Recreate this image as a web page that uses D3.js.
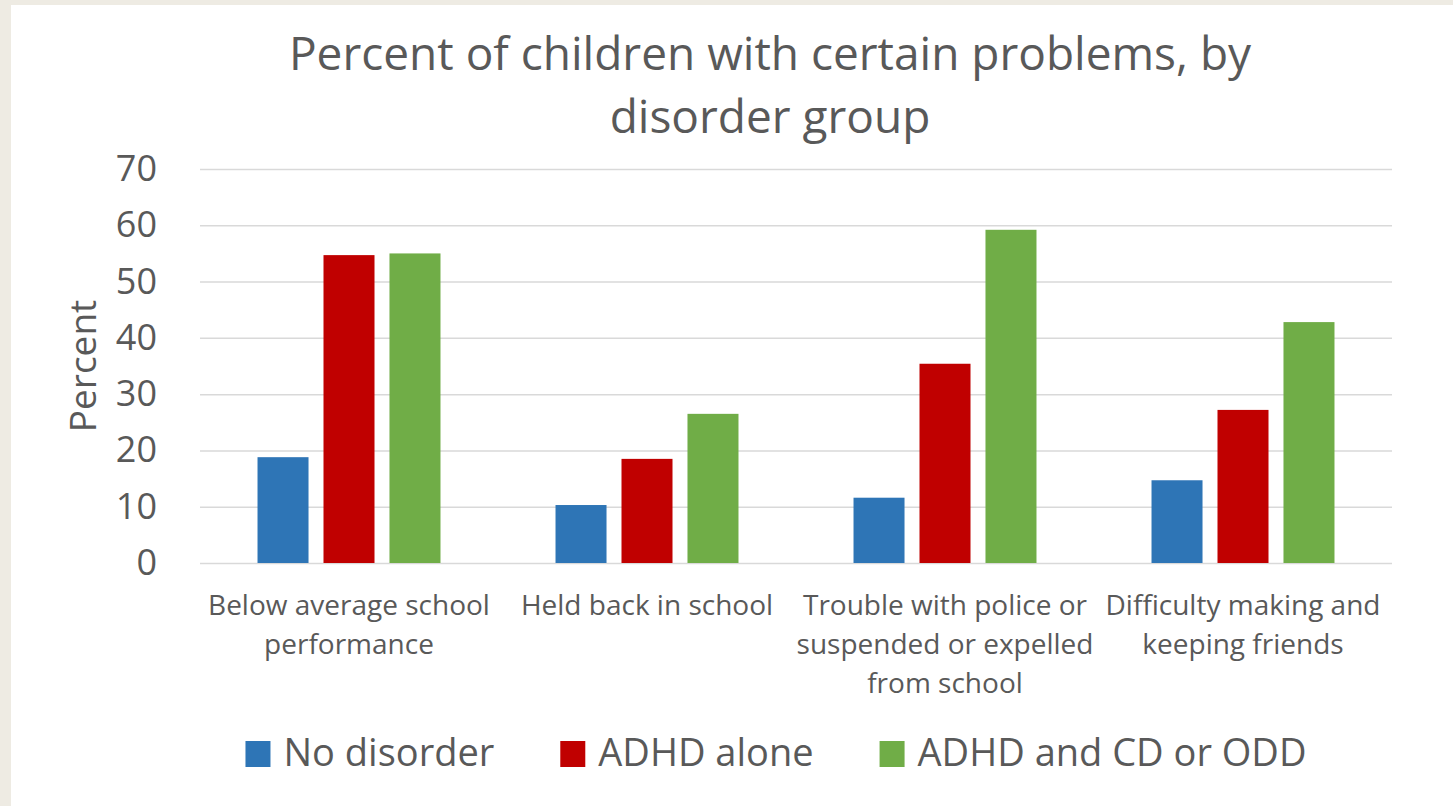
<!DOCTYPE html>
<html>
<head>
<meta charset="utf-8">
<script src="https://cdn.jsdelivr.net/npm/d3@7"></script>
<style>
  html, body { margin: 0; padding: 0; background: #eeebe3; }
  svg { display: block; }
  text { font-family: "Open Sans", "Noto Sans", sans-serif; fill: #595959; }
</style>
</head>
<body>
<div id="chart"></div>
<script>
// data
const categories = [
  ['Below average school', 'performance'],
  ['Held back in school'],
  ['Trouble with police or', 'suspended or expelled', 'from school'],
  ['Difficulty making and', 'keeping friends']
];
const seriesNames = ['No disorder', 'ADHD alone', 'ADHD and CD or ODD'];
const noDisorder = [18.8, 10.3, 11.6, 14.7];
const adhdAlone = [54.7, 18.5, 35.4, 27.2];
const adhdCdOdd = [55.0, 26.5, 59.2, 42.8];
const yTicks = [0, 10, 20, 30, 40, 50, 60, 70];
const titleLines = ['Percent of children with certain problems, by', 'disorder group'];

const colors = ['#2e75b6', '#c00000', '#70ad47'];
const seriesValues = [noDisorder, adhdAlone, adhdCdOdd];

const W = 1453, H = 806;
const margin = {top: 169, right: 61, bottom: 243, left: 200},
      width = W - margin.left - margin.right,
      height = H - margin.top - margin.bottom;

const root = d3.select('#chart').append('svg')
    .attr('width', W)
    .attr('height', H);

// white panel on beige page
root.append('rect')
    .attr('x', 11).attr('y', 5)
    .attr('width', W - 11).attr('height', H - 5)
    .attr('fill', '#ffffff');

// title
root.append('text')
    .attr('text-anchor', 'middle')
    .style('font-size', '46px')
    .selectAll('tspan')
    .data(titleLines)
    .join('tspan')
    .attr('x', 770)
    .attr('y', (d, i) => 70 + i * 63)
    .text(d => d);

const svg = root.append('g')
    .attr('transform', `translate(${margin.left}, ${margin.top})`);

// scales
const x0 = d3.scaleBand()
    .domain(d3.range(categories.length))
    .range([0, width])
    .paddingInner(0.386)
    .paddingOuter(0.193);

const x1 = d3.scaleBand()
    .domain(d3.range(seriesNames.length))
    .range([0, x0.bandwidth()])
    .paddingInner(0.227);

const yScale = d3.scaleLinear()
    .domain([0, 70])
    .range([height, 0]);

// gridlines + y labels
const yAxis = svg.append('g')
    .attr('id', 'yAxis')
    .call(d3.axisLeft(yScale).tickValues(yTicks).tickSize(-width).tickPadding(43));
yAxis.select('.domain').remove();
yAxis.selectAll('line')
    .attr('stroke', '#d9d9d9')
    .attr('stroke-width', 1.5);
yAxis.selectAll('text')
    .style('font-size', '36px')
    .attr('fill', '#595959')
    .attr('font-family', null);

// y title
svg.append('text')
    .attr('transform', `translate(-117, ${yScale(35)}) rotate(-90)`)
    .attr('text-anchor', 'middle')
    .attr('dy', '0.35em')
    .style('font-size', '37px')
    .text('Percent');

// bars
const groups = svg.append('g')
    .selectAll('g')
    .data(categories.map((c, i) => i))
    .join('g')
    .attr('transform', i => `translate(${x0(i)}, 0)`);

groups.selectAll('rect')
    .data(i => seriesValues.map((vals, s) => ({s: s, v: vals[i]})))
    .join('rect')
    .attr('x', d => x1(d.s))
    .attr('y', d => yScale(d.v))
    .attr('width', x1.bandwidth())
    .attr('height', d => height - yScale(d.v))
    .attr('fill', d => colors[d.s]);

// category labels
const catLabels = svg.append('g')
    .selectAll('text')
    .data(categories)
    .join('text')
    .attr('text-anchor', 'middle')
    .style('font-size', '28px');
catLabels.each(function (lines, i) {
  d3.select(this).selectAll('tspan')
    .data(lines)
    .join('tspan')
    .attr('x', x0(i) + x0.bandwidth() / 2)
    .attr('y', (d, j) => height + 52 + j * 39)
    .text(d => d);
});

// legend
const legend = root.append('g');
const items = legend.selectAll('g')
    .data(seriesNames)
    .join('g');
items.append('rect')
    .attr('width', 25)
    .attr('height', 26)
    .attr('y', 741)
    .attr('fill', (d, i) => colors[i]);
items.append('text')
    .attr('x', 38)
    .attr('y', 766)
    .style('font-size', '38px')
    .text(d => d);

const widths = [];
items.each(function () {
  widths.push(d3.select(this).select('text').node().getComputedTextLength() + 38);
});
const gap = 66;
const total = d3.sum(widths) + gap * (widths.length - 1);
let pos = 776 - total / 2;
items.each(function (d, i) {
  d3.select(this).attr('transform', `translate(${pos}, 0)`);
  pos += widths[i] + gap;
});
</script>
</body>
</html>
